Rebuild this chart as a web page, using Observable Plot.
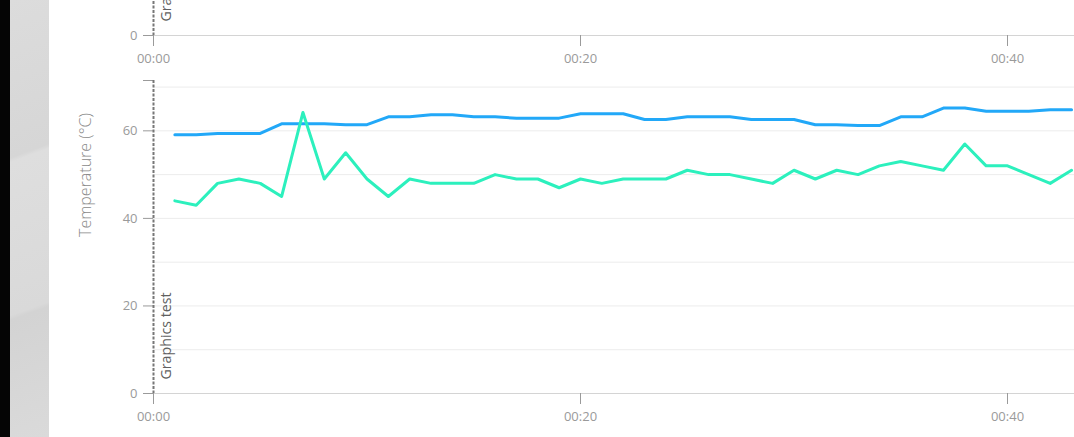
<!DOCTYPE html>
<html>
<head>
<meta charset="utf-8">
<script src="https://cdn.jsdelivr.net/npm/d3@7"></script>
<script src="https://cdn.jsdelivr.net/npm/@observablehq/plot@0.6"></script>
<style>
  html, body { margin: 0; padding: 0; background: #fff; }
  body { position: relative; width: 1074px; height: 437px; overflow: hidden; font-family: "Open Sans", sans-serif; }
  #edge { position: absolute; left: 0; top: 0; width: 10px; height: 437px; background: #050505; }
  #side { position: absolute; left: 10px; top: 0; width: 39px; height: 437px;
          background: linear-gradient(160deg, #dcdcdc 0%, #d6d6d6 35%, #dedede 36%, #d9d9d9 70%, #d3d3d3 71%, #dadada 100%); }
  .chart { position: absolute; left: 0; }
</style>
</head>
<body>
<div id="edge"></div>
<div id="side"></div>
<div id="top" class="chart" style="top:-298px"></div>
<div id="bottom" class="chart" style="top:60px"></div>
<script>
// ---- data ----
const seconds = [1,2,3,4,5,6,7,8,9,10,11,12,13,14,15,16,17,18,19,20,21,22,23,24,25,26,27,28,29,30,31,32,33,34,35,36,37,38,39,40,41,42,43];
const tempBlue = [59.1,59.1,59.4,59.4,59.4,61.6,61.6,61.6,61.4,61.4,63.2,63.2,63.7,63.7,63.2,63.2,62.9,62.9,62.9,63.9,63.9,63.9,62.6,62.6,63.2,63.2,63.2,62.6,62.6,62.6,61.4,61.4,61.2,61.2,63.2,63.2,65.2,65.2,64.5,64.5,64.5,64.8,64.8];
const tempTeal = [44,43,48,49,48,45,64.2,49,55,49,45,49,48,48,48,50,49,49,47,49,48,49,49,49,51,50,50,49,48,51,49,51,50,52,53,52,51,57,52,52,50,48,51];
const xTicks = [0, 20, 40, 60];
const yTicks = [0, 20, 40, 60];
const gridValues = [10, 20, 30, 40, 50, 60, 70];
const markerTime = [0];
const markerLabel = ["Graphics test"];
const yLabel = ["Temperature (°C)"];
const yMax = 71.5;
const xMax = 60;

const blueRows = seconds.map((t, i) => ({t, v: tempBlue[i]}));
const tealRows = seconds.map((t, i) => ({t, v: tempTeal[i]}));

const fmtTime = s => {
  const m = Math.floor(s / 60), r = s % 60;
  return String(m).padStart(2, "0") + ":" + String(r).padStart(2, "0");
};

const common = {
  width: 1434,
  height: 377,
  marginLeft: 153,
  marginRight: 0,
  marginTop: 20,
  marginBottom: 44,
  style: {fontFamily: "Open Sans", fontSize: "13px", color: "#9a9a9a", background: "transparent", overflow: "visible", maxWidth: "none"},
  x: {domain: [0, xMax], label: null},
};

function axes(withTopTick) {
  const ticks = withTopTick ? [...yTicks, yMax] : [0];
  return [
    Plot.axisX({ticks: xTicks, tickFormat: fmtTime, tickSize: 11, tickPadding: 7, label: null, stroke: "#9a9a9a"}),
    Plot.axisY({ticks, tickFormat: d => (d === yMax ? "" : d), tickSize: 10, tickPadding: 6, label: null, stroke: "#9a9a9a"})
  ];
}

function marker() {
  return [
    Plot.ruleX(markerTime, {stroke: "#777777", strokeWidth: 2, strokeDasharray: "3,1.5"}),
    Plot.text(markerLabel, {x: () => markerTime[0], y: () => 0, text: d => d, rotate: -90, textAnchor: "start", dx: 13, dy: -14, fill: "#606060", fontSize: 14.2})
  ];
}

// upper chart (only its bottom edge is visible)
const topPlot = Plot.plot({
  ...common,
  y: {domain: [0, yMax], label: null},
  marks: [
    Plot.ruleY([0], {stroke: "#d4d4d4"}),
    ...axes(false),
    ...marker()
  ]
});
document.getElementById("top").append(topPlot);

// lower chart: temperature
const bottomPlot = Plot.plot({
  ...common,
  y: {domain: [0, yMax], label: null},
  marks: [
    Plot.ruleY(gridValues, {stroke: "#ececec"}),
    Plot.ruleY([0], {stroke: "#d4d4d4"}),
    ...axes(true),
    Plot.line(blueRows, {x: "t", y: "v", stroke: "#22a8f8", strokeWidth: 3}),
    Plot.line(tealRows, {x: "t", y: "v", stroke: "#2cf0bd", strokeWidth: 3}),
    ...marker(),
    Plot.text(yLabel, {text: d => d, frameAnchor: "left", rotate: -90, dx: -68, fill: "#8a8a8a", fontSize: 16, fontWeight: 300})
  ]
});
document.getElementById("bottom").append(bottomPlot);
</script>
</body>
</html>
